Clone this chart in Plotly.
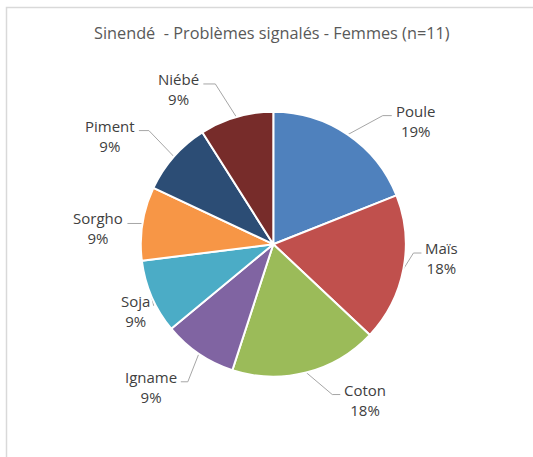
import math
import plotly.graph_objects as go

# Survey data: reported problems, women respondents in Sinendé
categories = ["Poule", "Maïs", "Coton", "Igname", "Soja", "Sorgho", "Piment", "Niébé"]
shares = [19, 18, 18, 9, 9, 9, 9, 9]
colors = ["#4F81BD", "#C0504D", "#9BBB59", "#8064A2", "#4BACC6", "#F79646", "#2C4D75", "#772C2A"]
title_text = "Sinendé  - Problèmes signalés - Femmes (n=11)"

# Canvas and pie geometry (pixels)
W, H = 533, 457
CX, CY, R = 273.3, 244.2, 132.5

# Leader-line end offset from the slice's rim point (dx, dy) and elbow length
label_layout = [
    (44, -19, 9),
    (18, -16, 8),
    (34, 22, 8),
    (-18, 28, 7),
    (2, 9, 0),
    (-15, 0, 8),
    (-35, -26, 10),
    (-33, -33, 12),
]

fig = go.Figure()

fig.add_trace(go.Pie(
    labels=categories,
    values=shares,
    sort=False,
    direction="clockwise",
    rotation=0,
    marker=dict(colors=colors, line=dict(color="white", width=2)),
    textinfo="none",
    hoverinfo="label+percent",
    showlegend=False,
    domain=dict(
        x=[(CX - R) / W, (CX + R) / W],
        y=[(H - CY - R) / H, (H - CY + R) / H],
    ),
))

total = sum(shares)
cum = 0.0
annotations = []
for name, v, (dx, dy, elbow) in zip(categories, shares, label_layout):
    mid = (cum + v / 2) / total
    cum += v
    th = 2 * math.pi * mid
    ex, ey = CX + R * math.sin(th), CY - R * math.cos(th)
    endx, endy = ex + dx, ey + dy
    right = math.sin(th) > 0
    bx = endx - elbow if right else endx + elbow
    fig.add_trace(go.Scatter(
        x=[ex, bx, endx], y=[ey, endy, endy], mode="lines",
        line=dict(color="#A6A6A6", width=1), hoverinfo="skip", showlegend=False,
    ))
    pct = round(v / total * 100)
    annotations.append(dict(
        x=endx + (2 if right else -2), y=endy + 5,
        xref="x", yref="y",
        text=f"{name}<br>{pct}%",
        showarrow=False,
        xanchor="left" if right else "right",
        yanchor="middle",
        align="center",
        font=dict(family="Open Sans", size=15, color="#404040"),
    ))

annotations.append(dict(
    x=272, y=33, xref="x", yref="y", text=title_text, showarrow=False,
    xanchor="center", yanchor="middle",
    font=dict(family="Open Sans", size=16.3, color="#595959"),
))

# Chart-area frame (left and top edges visible)
fig.add_shape(type="path", xref="x", yref="y",
              path=f"M 6.5 {H} L 6.5 7.5 L {W} 7.5",
              line=dict(color="#D9D9D9", width=1.5))

fig.update_layout(
    width=W, height=H,
    margin=dict(l=0, r=0, t=0, b=0),
    paper_bgcolor="white", plot_bgcolor="rgba(0,0,0,0)",
    xaxis=dict(range=[0, W], visible=False, fixedrange=True),
    yaxis=dict(range=[H, 0], visible=False, fixedrange=True),
    annotations=annotations,
    showlegend=False,
)

fig.write_html("out.html")
